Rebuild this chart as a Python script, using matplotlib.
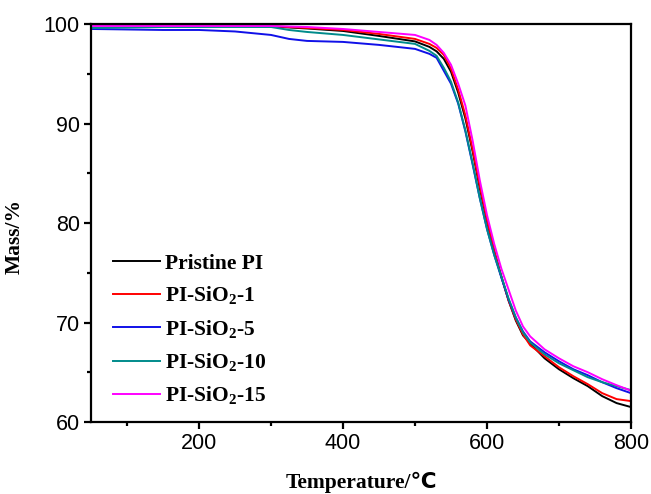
import matplotlib
matplotlib.use('Agg')
import matplotlib.pyplot as plt
from matplotlib.ticker import MultipleLocator

plt.rcParams['mathtext.fontset'] = 'custom'
plt.rcParams['mathtext.rm'] = 'Liberation Serif:bold'
plt.rcParams['mathtext.bf'] = 'Liberation Serif:bold'

#------- TGA data (temperature in C, mass in %)

temperature = [50, 100, 150, 200, 250, 300, 325, 350, 400, 450, 500, 520, 530,
               540, 550, 560, 570, 580, 590, 600, 610, 620, 630, 640, 650, 660,
               680, 700, 720, 740, 760, 780, 800]

pristine = [99.9, 99.9, 99.85, 99.85, 99.8, 99.75, 99.65, 99.55, 99.3, 98.8, 98.25, 97.7, 97.25,
            96.5, 95.2, 93.1, 90.5, 87.2, 83.5, 80.2, 77.2, 74.6, 72.2, 70.2, 68.7, 67.9,
            66.4, 65.3, 64.4, 63.6, 62.6, 61.9, 61.5]

sio2_1 = [99.9, 99.9, 99.9, 99.85, 99.8, 99.8, 99.7, 99.6, 99.4, 99.0, 98.5, 98.0, 97.6,
          96.9, 95.5, 93.4, 90.8, 87.4, 83.7, 80.3, 77.2, 74.6, 72.2, 70.3, 68.8, 67.7,
          66.6, 65.5, 64.6, 63.8, 62.9, 62.3, 62.1]

sio2_5 = [99.5, 99.45, 99.4, 99.4, 99.25, 98.9, 98.5, 98.3, 98.2, 97.9, 97.5, 97.0, 96.6,
          95.3, 94.0, 92.0, 89.2, 85.9, 82.5, 79.4, 76.8, 74.5, 72.3, 70.5, 69.1, 68.1,
          67.0, 66.1, 65.3, 64.7, 64.0, 63.4, 62.9]

sio2_10 = [99.6, 99.65, 99.7, 99.7, 99.7, 99.7, 99.4, 99.2, 98.9, 98.45, 98.0, 97.3, 96.8,
           95.6, 94.2, 92.1, 89.3, 86.0, 82.5, 79.4, 76.8, 74.6, 72.4, 70.5, 69.0, 68.0,
           66.8, 65.9, 65.2, 64.5, 64.0, 63.6, 63.2]

sio2_15 = [99.8, 99.8, 99.8, 99.8, 99.8, 99.8, 99.75, 99.7, 99.5, 99.2, 98.9, 98.4, 97.9,
           97.1, 95.9, 94.0, 91.8, 88.3, 84.3, 80.8, 77.9, 75.4, 73.3, 71.2, 69.6, 68.6,
           67.3, 66.4, 65.6, 65.0, 64.3, 63.7, 63.15]

labels = ['Pristine PI', r'PI-SiO$_\mathbf{2}$-1', r'PI-SiO$_\mathbf{2}$-5',
          r'PI-SiO$_\mathbf{2}$-10', r'PI-SiO$_\mathbf{2}$-15']
colors = ['black', '#ff0000', '#1010e8', '#008b8b', '#ff00ff']

#------- Plotting

fig = plt.figure(figsize=(6.51, 4.94), dpi=100)
ax = fig.add_axes([91/651, 1 - 422/494, 540/651, 398/494])

series = [pristine, sio2_1, sio2_5, sio2_10, sio2_15]
for y, lab, c in zip(series, labels, colors):
    ax.plot(temperature, y, color=c, lw=1.4, label=lab)

ax.set_xlim(50, 800)
ax.set_ylim(60, 100)
ax.xaxis.set_major_locator(MultipleLocator(200))
ax.xaxis.set_minor_locator(MultipleLocator(100))
ax.yaxis.set_major_locator(MultipleLocator(10))
ax.yaxis.set_minor_locator(MultipleLocator(5))

for s in ax.spines.values():
    s.set_linewidth(1.6)
ax.tick_params(which='both', direction='out', width=1.6, top=False, right=False,
               labelsize=15.5, pad=3)
ax.tick_params(which='major', length=5)
ax.tick_params(which='minor', length=3)
for t in ax.get_xticklabels() + ax.get_yticklabels():
    t.set_fontfamily('Liberation Sans')

ax.set_xlabel('Temperature/\u2103', fontsize=15.5, fontweight='bold',
              family=['Liberation Serif', 'DejaVu Sans'])
ax.set_ylabel('Mass/%', fontsize=15.5, fontweight='bold', family='Liberation Serif')
ax.xaxis.set_label_coords(0.5, -0.125)
ax.yaxis.set_label_coords(-0.122, 0.465)

ax.legend(loc='lower left', bbox_to_anchor=(0.02, 0.01), frameon=False,
          prop={'family': 'Liberation Serif', 'weight': 'bold', 'size': 15.5},
          handlelength=2.2, handletextpad=0.25, labelspacing=0.5, borderpad=0)

plt.savefig('out.png', dpi=100)
